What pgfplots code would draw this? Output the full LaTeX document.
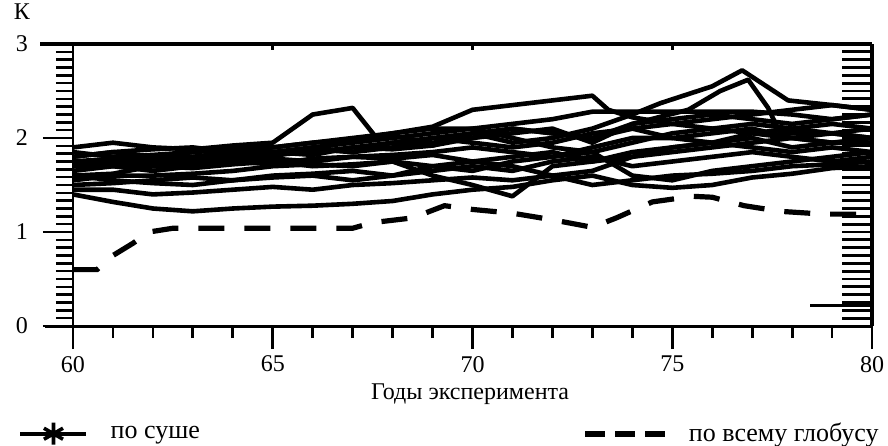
\documentclass[border=0pt]{standalone}
\usepackage{fontspec}
\setmainfont{Liberation Serif}
\usepackage{pgfplots}
\pgfplotsset{compat=1.18}
\pgfplotsset{
  base/.style={scale only axis, width=399.5pt, height=141pt,
    xmin=60, xmax=80, ymin=0, ymax=3, at={(0,0)}, anchor=south west,
    axis line style={draw=none},
    /pgf/number format/assume math mode=true,
    tick label style={font=\fontsize{12}{14}\selectfont}},
  run/.style={black, line width=2.3pt, line join=round, no markers, forget plot},
}
\begin{document}
\begin{tikzpicture}
\useasboundingbox (-36.5pt,-59.5pt) rectangle (407.5pt,163pt);
% left y ticks
\begin{axis}[base, hide x axis, ytick={0,1,2,3}, minor y tick num=11,
  ytick pos=left, tick align=outside, major tick length=15pt, minor tick length=8.5pt,
  tick style={line width=1.3pt, black},
  yticklabel style={xshift=-4pt}]
\addplot[draw=none, forget plot] coordinates {(60,0)};
\end{axis}
% right ticks
\begin{axis}[base, hide x axis, ytick pos=right, tick align=inside,
  ytick={0.0833,0.1667,0.25,0.3333,0.4167,0.5,0.5833,0.6667,0.75,0.8333,0.9167,1,1.0833,1.1667,1.25,1.3333,1.4167,1.5,1.5833,1.6667,1.75,1.8333,1.9167,2,2.0833,2.1667,2.25,2.3333,2.4167,2.5,2.5833,2.6667,2.75,2.8333,2.9167},
  yticklabels={}, major tick length=15pt,
  tick style={line width=1.4pt, black},
  extra y ticks={0.22}, extra y tick labels={}, extra tick style={major tick length=31pt}]
\addplot[draw=none, forget plot] coordinates {(60,0)};
\end{axis}
% top small ticks + second legend
\begin{axis}[base, hide y axis, xtick pos=right, tick align=inside, xtick={65,70,75}, xticklabels={},
  major tick length=3pt, tick style={line width=1.5pt, black},
  legend image code/.code={\draw[#1] (0pt,0pt) -- (40pt,0pt);},
  legend style={at={(rel axis cs:0.637,-0.382)}, anchor=west, draw=none, fill=none, inner sep=0pt,
    nodes={inner sep=0pt}, font=\fontsize{13}{15}\selectfont,
    /tikz/every odd column/.append style={column sep=10.5pt}}]
\addplot[draw=none, forget plot] coordinates {(60,0)};
\addlegendimage{black, line width=2.8pt, dash pattern=on 10pt off 5pt}
\addlegendentry{по всему глобусу}
\end{axis}
% main axis
\begin{axis}[base, clip=false, ytick=\empty,
  xtick={60,65,70,75,80}, minor xtick={61,62,63,64,66,67,68,69,71,72,73,74,76,77,78,79},
  xtick pos=left, tick align=outside, major tick length=11.5pt, minor tick length=6pt,
  tick style={line width=1.4pt, black},
  xlabel={Годы эксперимента},
  xlabel style={font=\fontsize{12}{14}\selectfont, at={(rel axis cs:0.497,0)}, anchor=center, yshift=-34pt},
  legend image code/.code={\draw[mark repeat=2,mark phase=2,#1] plot coordinates {(0pt,0pt) (16.5pt,0pt) (33pt,0pt)};},
  legend style={at={(rel axis cs:-0.069,-0.382)}, anchor=west, draw=none, fill=none, inner sep=0pt,
    nodes={inner sep=0pt}, font=\fontsize{13}{15}\selectfont,
    /tikz/every odd column/.append style={column sep=11pt}},
]
% model runs
\addplot[run] coordinates {(60,1.90)(61,1.95)(62,1.90)(63,1.88)(64,1.92)(65,1.95)(66,2.25)(67,2.32)(67.6,2.00)(68,2.02)(69,1.95)(70,2.00)(71,2.10)(72,2.05)(73,2.00)(74,2.15)(75,2.20)(76,2.25)(77,2.20)(78,2.15)(79,2.20)(80,2.25)};
\addplot[run] coordinates {(60,1.80)(61,1.85)(62,1.80)(63,1.85)(64,1.90)(65,1.90)(66,1.95)(67,2.00)(68,2.05)(69,2.12)(70,2.30)(71,2.35)(72,2.40)(73,2.45)(73.4,2.30)(74,2.22)(75,2.15)(76,2.20)(77,2.25)(78,2.30)(79,2.35)(80,2.30)};
\addplot[run] coordinates {(60,1.75)(61,1.78)(62,1.72)(63,1.75)(64,1.80)(65,1.85)(66,1.90)(67,1.85)(68,1.90)(69,2.00)(70,2.05)(71,1.95)(72,2.00)(73,2.10)(74,2.25)(74.7,2.37)(76,2.55)(76.75,2.72)(77.9,2.40)(79,2.35)(80,2.30)};
\addplot[run] coordinates {(60,1.70)(61,1.72)(62,1.78)(63,1.80)(64,1.78)(65,1.82)(66,1.85)(67,1.90)(68,1.88)(69,1.92)(70,2.00)(71,2.05)(72,2.10)(73,1.95)(74,2.15)(75.4,2.30)(76.2,2.50)(76.9,2.62)(77.4,2.32)(77.7,2.05)(79,2.05)(80,2.10)};
\addplot[run] coordinates {(60,1.65)(61,1.70)(62,1.75)(63,1.80)(64,1.85)(65,1.80)(66,1.90)(67,1.95)(68,2.00)(69,2.05)(70,2.10)(71,2.00)(72,1.90)(73,1.85)(74,1.95)(75,2.05)(76,2.10)(77,2.15)(78,2.10)(79,2.05)(80,2.00)};
\addplot[run] coordinates {(60,1.60)(61,1.62)(62,1.70)(63,1.72)(64,1.75)(65,1.78)(66,1.75)(67,1.80)(68,1.82)(69,1.85)(70,1.90)(71,1.85)(72,1.80)(73,1.90)(74,2.00)(75,2.00)(76,1.95)(77,2.05)(78,2.00)(79,1.95)(80,1.95)};
\addplot[run] coordinates {(60,1.55)(61,1.60)(62,1.60)(63,1.62)(64,1.65)(65,1.70)(66,1.72)(67,1.70)(68,1.75)(69,1.70)(70,1.75)(71,1.80)(72,1.85)(73,1.75)(74,1.80)(75,1.90)(76,1.95)(77,1.90)(78,1.85)(79,1.90)(80,1.85)};
\addplot[run] coordinates {(60,1.50)(61,1.52)(62,1.55)(63,1.58)(64,1.55)(65,1.60)(66,1.62)(67,1.65)(68,1.60)(69,1.65)(70,1.70)(71,1.65)(72,1.75)(73,1.80)(74,1.70)(75,1.75)(76,1.80)(77,1.85)(78,1.80)(79,1.75)(80,1.80)};
\addplot[run] coordinates {(60,1.70)(61,1.72)(62,1.70)(63,1.68)(64,1.72)(65,1.75)(66,1.70)(67,1.72)(68,1.75)(69,1.60)(70,1.50)(71,1.38)(72,1.70)(73,1.75)(74,1.85)(75,1.90)(76,1.95)(77,2.00)(78,1.90)(79,1.95)(80,2.00)};
\addplot[run] coordinates {(60,1.40)(61,1.32)(62,1.25)(63,1.22)(64,1.25)(65,1.27)(66,1.28)(67,1.30)(68,1.33)(69,1.40)(70,1.45)(71,1.48)(72,1.55)(73,1.60)(74,1.50)(75,1.47)(76,1.50)(77,1.58)(78,1.62)(79,1.68)(80,1.70)};
\addplot[run] coordinates {(60,1.45)(61,1.45)(62,1.40)(63,1.42)(64,1.45)(65,1.48)(66,1.45)(67,1.50)(68,1.52)(69,1.55)(70,1.58)(71,1.55)(72,1.60)(73,1.50)(74,1.55)(75,1.60)(76,1.62)(77,1.65)(78,1.70)(79,1.72)(80,1.75)};
\addplot[run] coordinates {(60,1.85)(61,1.80)(62,1.82)(63,1.85)(64,1.88)(65,1.85)(66,1.82)(67,1.90)(68,1.95)(69,1.92)(70,2.05)(71,2.10)(72,2.05)(73,2.00)(74,2.10)(75,2.15)(76,2.10)(77,2.05)(78,2.10)(79,2.15)(80,2.10)};
\addplot[run] coordinates {(60,1.75)(61,1.70)(62,1.65)(63,1.70)(64,1.75)(65,1.72)(66,1.78)(67,1.80)(68,1.78)(69,1.82)(70,1.75)(71,1.70)(72,1.60)(73,1.65)(74,1.80)(75,1.85)(76,1.90)(77,1.95)(78,2.00)(79,2.05)(80,2.00)};
\addplot[run] coordinates {(60,1.60)(61,1.55)(62,1.52)(63,1.50)(64,1.55)(65,1.58)(66,1.60)(67,1.55)(68,1.60)(69,1.70)(70,1.65)(71,1.75)(72,1.80)(73,1.85)(74,1.60)(75,1.55)(76,1.65)(77,1.70)(78,1.75)(79,1.80)(80,1.85)};
\addplot[run] coordinates {(60,1.80)(61,1.85)(62,1.88)(63,1.90)(64,1.85)(65,1.90)(66,1.95)(67,1.98)(68,2.05)(69,2.10)(70,2.10)(71,2.15)(72,2.20)(73,2.28)(74,2.28)(75,2.28)(76,2.28)(77,2.28)(78,2.25)(79,2.20)(80,2.25)};
\addplot[run] coordinates {(60,1.70)(61,1.75)(62,1.80)(63,1.78)(64,1.82)(65,1.85)(66,1.88)(67,1.85)(68,1.95)(69,2.00)(70,1.95)(71,1.90)(72,1.95)(73,2.05)(74,2.10)(75,2.00)(76,2.05)(77,2.10)(78,2.00)(79,1.95)(80,1.95)};
% global mean (dashed)
\addplot[black, line width=2.6pt, dash pattern=on 13pt off 10pt, forget plot] coordinates {(60,0.60)(60.6,0.60)(61,0.75)(61.5,0.88)(61.9,1.00)(62.5,1.04)(67,1.04)(67.5,1.10)(68.5,1.15)(69.3,1.28)(70,1.24)(71,1.20)(72,1.13)(73,1.05)(73.6,1.15)(74.5,1.32)(75.5,1.38)(76,1.37)(76.8,1.28)(77.7,1.22)(78.8,1.19)(80,1.19)};
% axis lines
\draw[line width=1.5pt] (axis cs:59.3,0) -- (axis cs:80,0);
\draw[line width=1.4pt] (axis cs:60,0) -- (axis cs:60,3);
\draw[line width=1.6pt] (axis cs:59.18,3) -- (axis cs:80,3);
\draw[line width=2pt] (axis cs:80,3) -- (axis cs:80,0);
\node[font=\fontsize{12}{14}\selectfont] at (rel axis cs:-0.064,1.113) {К};
% legend
\addlegendimage{black, line width=2.2pt, mark=asterisk, mark size=5.5pt, mark options={line width=1.8pt, solid}}
\addlegendentry{по суше}
\end{axis}
\end{tikzpicture}
\end{document}
